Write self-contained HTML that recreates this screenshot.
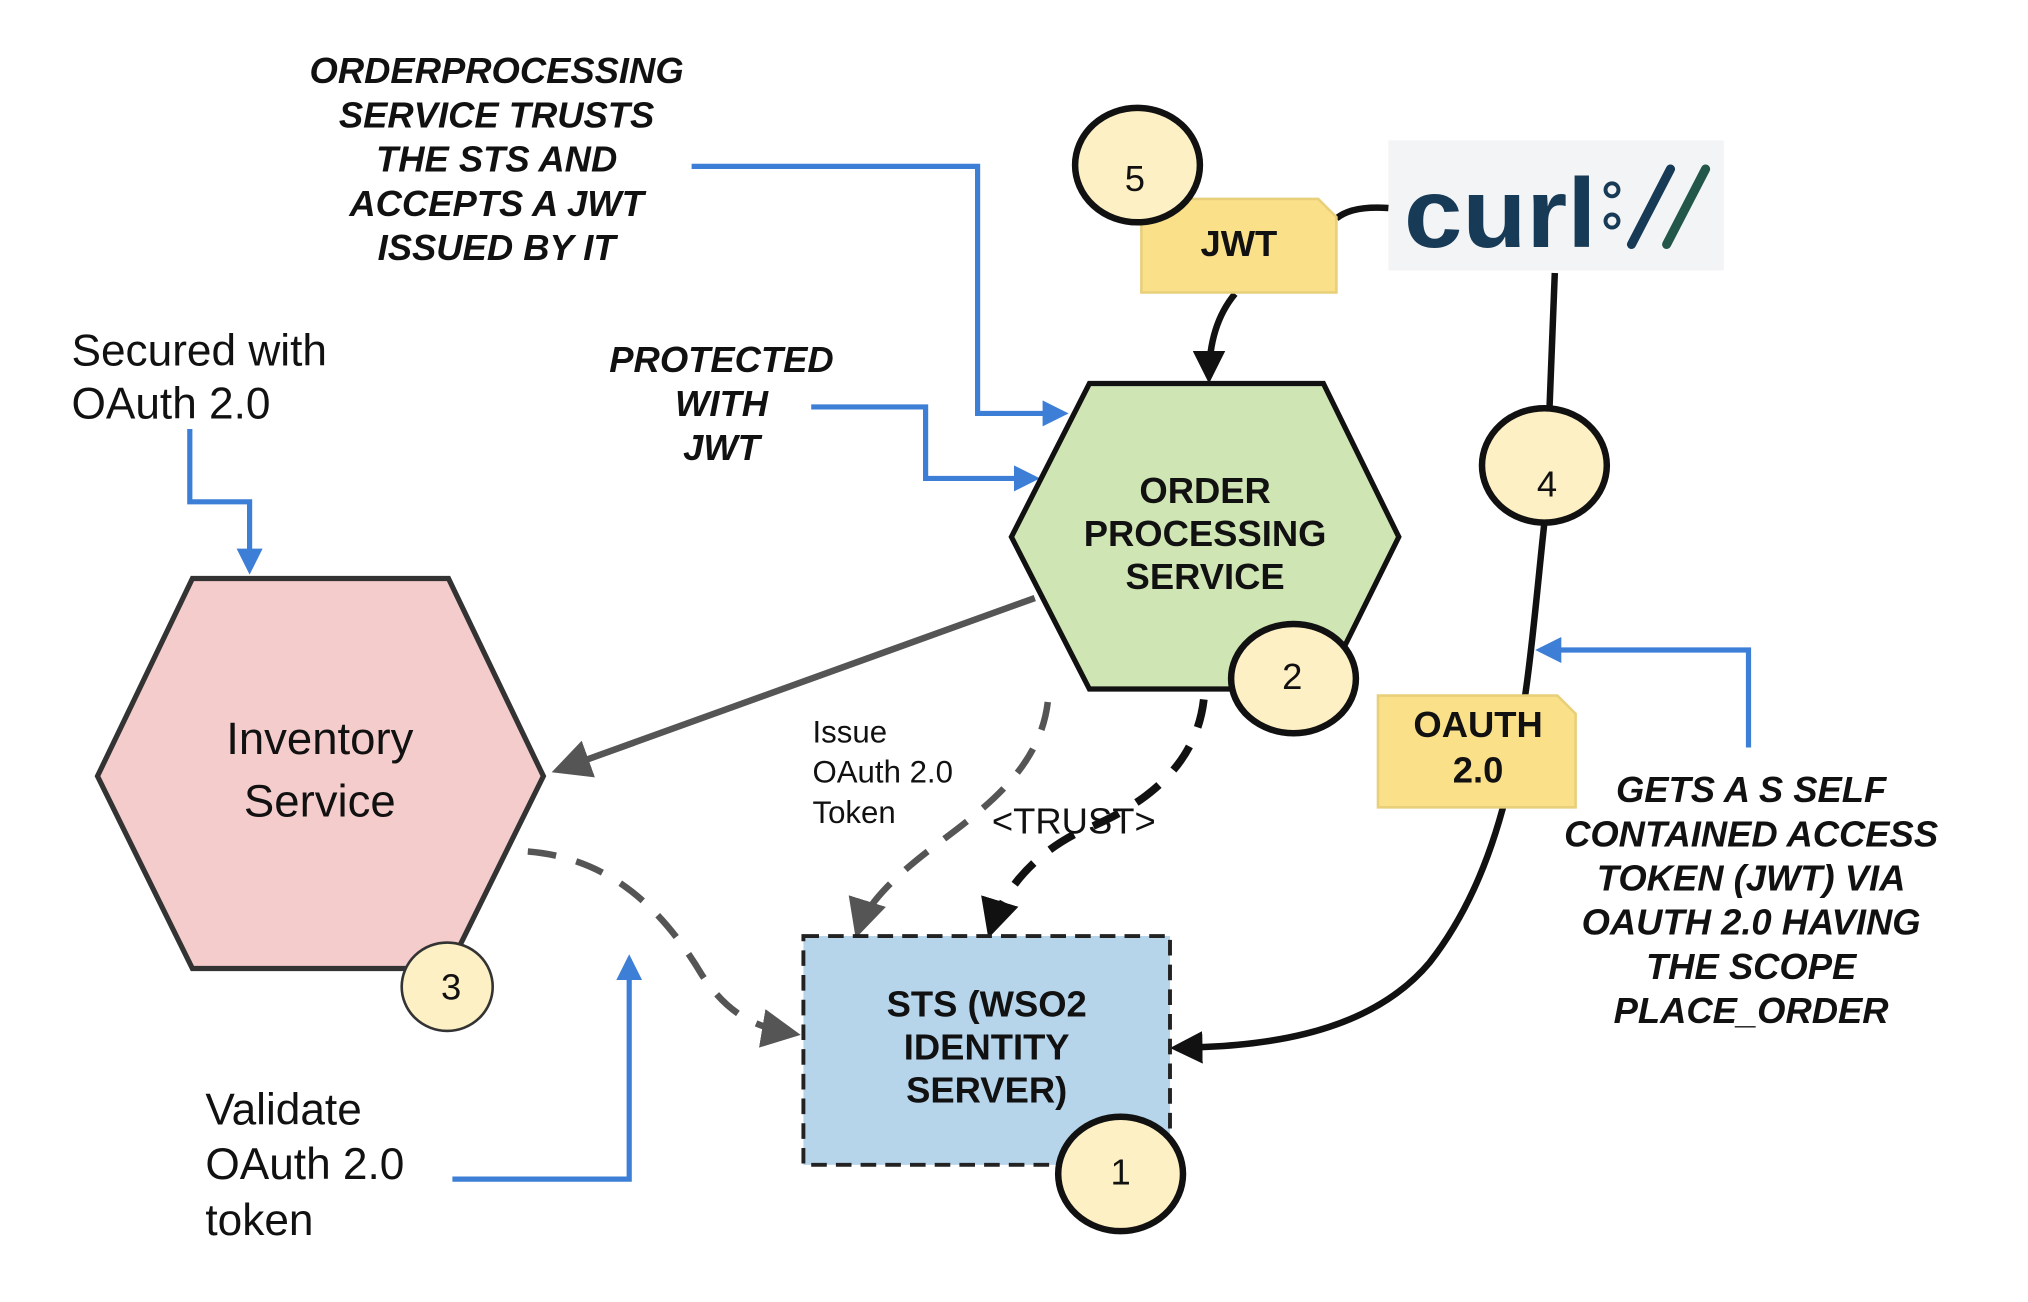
<!DOCTYPE html>
<html><head><meta charset="utf-8"><style>
html,body{margin:0;padding:0;background:#fff;}
svg{display:block;}
.c{font-family:"Liberation Sans",sans-serif;font-weight:bold;font-style:italic;fill:#111;}
.u{font-family:"Liberation Sans",sans-serif;font-weight:bold;fill:#111;}
.h{font-family:"Liberation Sans",sans-serif;fill:#111;}
.n{font-family:"Liberation Sans",sans-serif;font-size:28px;fill:#111;text-anchor:middle;}
</style></head><body>
<svg width="2028" height="1302" viewBox="0 0 1560 1001.5" preserveAspectRatio="none" xmlns="http://www.w3.org/2000/svg">
<defs>
<marker id="ab" viewBox="0 0 10 10" refX="8" refY="5" markerWidth="5" markerHeight="5" orient="auto"><path d="M0,0L10,5L0,10z" fill="#3d7fd6"/></marker>
<marker id="ag" viewBox="0 0 10 10" refX="8" refY="5" markerWidth="6" markerHeight="6" orient="auto"><path d="M0,0L10,5L0,10z" fill="#555"/></marker>
<marker id="ak" viewBox="0 0 10 10" refX="8" refY="5" markerWidth="5" markerHeight="5" orient="auto"><path d="M0,0L10,5L0,10z" fill="#111"/></marker>
</defs>

<!-- curl logo -->
<rect x="1068" y="108" width="258" height="100" fill="#f3f4f5"/>
<text x="1080" y="190" font-family="Liberation Sans,sans-serif" font-size="76" font-weight="bold" fill="#173a56" textLength="148" lengthAdjust="spacingAndGlyphs">curl</text>
<circle cx="1240" cy="146" r="5" fill="none" stroke="#173a56" stroke-width="3"/>
<circle cx="1240" cy="170" r="5" fill="none" stroke="#173a56" stroke-width="3"/>
<line x1="1255" y1="188" x2="1285" y2="130" stroke="#173a56" stroke-width="7" stroke-linecap="round"/>
<line x1="1282" y1="188" x2="1312" y2="130" stroke="#22574a" stroke-width="7" stroke-linecap="round"/>

<!-- black curves from curl -->
<path d="M1068,160 Q1040,158 1028,168" fill="none" stroke="#111" stroke-width="5"/>
<path d="M1196,210 L1192,312" fill="none" stroke="#111" stroke-width="5"/>
<path d="M1188,402 C1175,520 1170,650 1100,740 C1050,800 960,805 905,806" fill="none" stroke="#111" stroke-width="5" marker-end="url(#ak)"/>
<path d="M950,226 Q930,250 930,290" fill="none" stroke="#111" stroke-width="5" marker-end="url(#ak)"/>

<!-- blue arrows -->
<path d="M532,128 L752,128 L752,318 L818,318" fill="none" stroke="#3d7fd6" stroke-width="4" marker-end="url(#ab)"/>
<path d="M624,313 L712,313 L712,368 L796,368" fill="none" stroke="#3d7fd6" stroke-width="4" marker-end="url(#ab)"/>
<path d="M146,330 L146,386 L192,386 L192,438" fill="none" stroke="#3d7fd6" stroke-width="4" marker-end="url(#ab)"/>
<path d="M348,907 L484,907 L484,738" fill="none" stroke="#3d7fd6" stroke-width="4" marker-end="url(#ab)"/>
<path d="M1345,575 L1345,500 L1185,500" fill="none" stroke="#3d7fd6" stroke-width="4" marker-end="url(#ab)"/>

<!-- gray arrows -->
<path d="M796,460 L430,592" fill="none" stroke="#555" stroke-width="5" marker-end="url(#ag)"/>
<path d="M406,655 C470,660 510,700 540,750 C560,780 580,790 610,795" fill="none" stroke="#555" stroke-width="5" stroke-dasharray="22,16" marker-end="url(#ag)"/>
<path d="M806,540 C800,590 760,620 720,650 C680,680 665,700 660,716" fill="none" stroke="#555" stroke-width="5" stroke-dasharray="22,16" marker-end="url(#ag)"/>
<path d="M926,538 C920,590 880,620 830,640 C790,660 770,690 762,716" fill="none" stroke="#111" stroke-width="6" stroke-dasharray="22,16" marker-end="url(#ak)"/>

<!-- hexagons -->
<polygon points="75,597 148,445 345,445 418,597 345,745 148,745" fill="#f4cccc" stroke="#333" stroke-width="4"/>
<polygon points="778,413 838,295 1018,295 1076,413 1018,530 838,530" fill="#cfe6b4" stroke="#111" stroke-width="4"/>
<text class="h" x="246" y="580" font-size="35" text-anchor="middle">Inventory</text>
<text class="h" x="246" y="628" font-size="35" text-anchor="middle">Service</text>
<g class="u" font-size="28" text-anchor="middle">
<text x="927" y="387">ORDER</text><text x="927" y="420">PROCESSING</text><text x="927" y="453">SERVICE</text>
</g>

<!-- STS -->
<rect x="618" y="720" width="282" height="176" fill="#b6d4ea" stroke="#222" stroke-width="3" stroke-dasharray="12,7"/>
<g class="u" font-size="28" text-anchor="middle">
<text x="759" y="782">STS (WSO2</text><text x="759" y="815">IDENTITY</text><text x="759" y="848">SERVER)</text>
</g>

<!-- notes -->
<path d="M878,153 L1014,153 L1028,167 L1028,225 L878,225 Z" fill="#fbe08a" stroke="#e8cf7a" stroke-width="2"/>
<text class="u" x="953" y="197" font-size="28" text-anchor="middle">JWT</text>
<path d="M1060,535 L1198,535 L1212,549 L1212,621 L1060,621 Z" fill="#fbe08a" stroke="#e8cf7a" stroke-width="2"/>
<text class="u" x="1137" y="567" font-size="28" text-anchor="middle">OAUTH</text>
<text class="u" x="1137" y="602" font-size="28" text-anchor="middle">2.0</text>

<!-- circles -->
<ellipse cx="875" cy="127" rx="48" ry="44" fill="#fdf0c4" stroke="#111" stroke-width="5"/><text class="n" x="873" y="147">5</text>
<ellipse cx="1188" cy="358" rx="48" ry="44" fill="#fdf0c4" stroke="#111" stroke-width="5"/><text class="n" x="1190" y="382">4</text>
<ellipse cx="995" cy="522" rx="48" ry="42" fill="#fdf0c4" stroke="#111" stroke-width="5"/><text class="n" x="994" y="530">2</text>
<ellipse cx="862" cy="903" rx="48" ry="44" fill="#fdf0c4" stroke="#111" stroke-width="5"/><text class="n" x="862" y="911">1</text>
<ellipse cx="344" cy="759" rx="35" ry="34" fill="#fdf0c4" stroke="#333" stroke-width="2"/><text class="n" x="347" y="769" font-size="26">3</text>

<!-- labels -->
<g class="c" font-size="28" text-anchor="middle">
<text x="382" y="64">ORDERPROCESSING</text><text x="382" y="98">SERVICE TRUSTS</text><text x="382" y="132">THE STS AND</text><text x="382" y="166">ACCEPTS A JWT</text><text x="382" y="200">ISSUED BY IT</text>
<text x="555" y="286">PROTECTED</text><text x="555" y="320">WITH</text><text x="555" y="354">JWT</text>
<text x="1347" y="617">GETS A S SELF</text><text x="1347" y="651">CONTAINED ACCESS</text><text x="1347" y="685">TOKEN (JWT) VIA</text><text x="1347" y="719">OAUTH 2.0 HAVING</text><text x="1347" y="753">THE SCOPE</text><text x="1347" y="787">PLACE_ORDER</text>
</g>
<text class="h" x="826" y="641" font-size="28" text-anchor="middle">&lt;TRUST&gt;</text>
<g class="h" font-size="34">
<text x="55" y="281">Secured with</text><text x="55" y="322">OAuth 2.0</text>
<text x="158" y="865">Validate</text><text x="158" y="907">OAuth 2.0</text><text x="158" y="950">token</text>
</g>
<g class="h" font-size="24">
<text x="625" y="571">Issue</text><text x="625" y="602">OAuth 2.0</text><text x="625" y="633">Token</text>
</g>
</svg>
</body></html>
